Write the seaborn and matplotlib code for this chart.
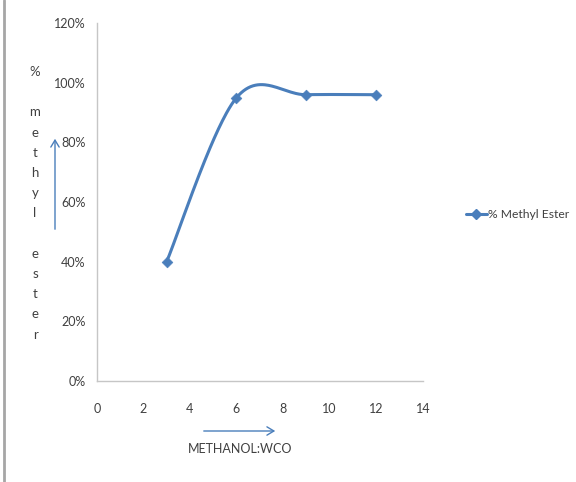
import numpy as np
import pandas as pd
import matplotlib
matplotlib.use("Agg")
import matplotlib.pyplot as plt
import seaborn as sns
from matplotlib.lines import Line2D
from matplotlib.ticker import PercentFormatter

# ---- data ----
ratio = [3, 6, 9, 12]
methyl_ester = [40, 95, 96, 96]   # percent
series_name = "% Methyl Ester"
x_ticks = [0, 2, 4, 6, 8, 10, 12, 14]
y_ticks = [0, 20, 40, 60, 80, 100, 120]

sns.set_theme(style="white")
plt.rcParams['font.family'] = ['Lato', 'DejaVu Sans']

BLUE = "#4a7ebb"
TXT = "#404040"
AX = "#c6c6c6"

def smooth(xs, ys, n=60):
    # Excel-like smoothed line (Catmull-Rom Bezier)
    P = np.column_stack([xs, ys]).astype(float)
    m = len(P)
    out = []
    for i in range(m - 1):
        p0 = P[i - 1] if i > 0 else P[i]
        p1, p2 = P[i], P[i + 1]
        p3 = P[i + 2] if i + 2 < m else P[i + 1]
        c1 = p1 + (p2 - p0) / 6.0
        c2 = p2 - (p3 - p1) / 6.0
        t = np.linspace(0, 1, n)[:, None]
        b = ((1 - t) ** 3) * p1 + 3 * ((1 - t) ** 2) * t * c1 + 3 * (1 - t) * t ** 2 * c2 + t ** 3 * p2
        out.append(b if i == 0 else b[1:])
    return np.vstack(out)

df = pd.DataFrame({"ratio": ratio, "ester": methyl_ester})
curve = smooth(df["ratio"].values, df["ester"].values)
cdf = pd.DataFrame({"x": curve[:, 0], "y": curve[:, 1]})

fig = plt.figure(figsize=(5.76, 4.82), dpi=100)
ax = fig.add_axes([0.168, 0.2095, 0.566, 0.7425])

sns.lineplot(data=cdf, x="x", y="y", ax=ax, color=BLUE, linewidth=2.2, sort=False)
sns.scatterplot(data=df, x="ratio", y="ester", ax=ax, color=BLUE, marker="D", s=30,
                edgecolor=BLUE, zorder=5)

ax.set_xlim(0, 14)
ax.set_ylim(0, 120)
ax.set_xticks(x_ticks)
ax.set_yticks(y_ticks)
ax.yaxis.set_major_formatter(PercentFormatter(decimals=0))
ax.set_xlabel("")
ax.set_ylabel("")
for s in ["top", "right"]:
    ax.spines[s].set_visible(False)
for s in ["left", "bottom"]:
    ax.spines[s].set_color(AX)
    ax.spines[s].set_linewidth(1.0)
ax.tick_params(axis="both", which="both", direction="out", length=4, width=1, color=AX,
               labelsize=9, labelcolor=TXT, pad=4)
ax.tick_params(axis="x", pad=12)

# vertical y label
fig.text(35 / 576, 1 - 66 / 482, "%\n\nm\ne\nt\nh\ny\nl\n\ne\ns\nt\ne\nr",
         ha="center", va="top", fontsize=9.5, color=TXT, linespacing=1.82)
# up arrow
fig.add_artist(matplotlib.patches.FancyArrowPatch(
    (55 / 576, 1 - 232 / 482), (55 / 576, 1 - 136 / 482), transform=fig.transFigure,
    arrowstyle="->,head_length=5,head_width=3", color=BLUE, lw=1.0))
# right arrow
fig.add_artist(matplotlib.patches.FancyArrowPatch(
    (201 / 576, 1 - 431 / 482), (278 / 576, 1 - 431 / 482), transform=fig.transFigure,
    arrowstyle="->,head_length=5,head_width=3", color=BLUE, lw=1.0))
fig.text(240 / 576, 1 - 449 / 482, "METHANOL:WCO", ha="center", va="center",
         fontsize=9, color=TXT)

# legend
handle = Line2D([], [], color=BLUE, lw=2.2, marker="D", markersize=5)
fig.legend([handle], [series_name], loc="center left", bbox_to_anchor=(466 / 576, 1 - 215 / 482),
           frameon=False, fontsize=8.7, handlelength=1.7, handletextpad=0.1, labelcolor=TXT,
           borderaxespad=0, borderpad=0)

# left border line
fig.add_artist(Line2D([4 / 576, 4 / 576], [0, 1], transform=fig.transFigure,
                      color="#a6a6a6", lw=2))

fig.savefig("out.png", dpi=100)
